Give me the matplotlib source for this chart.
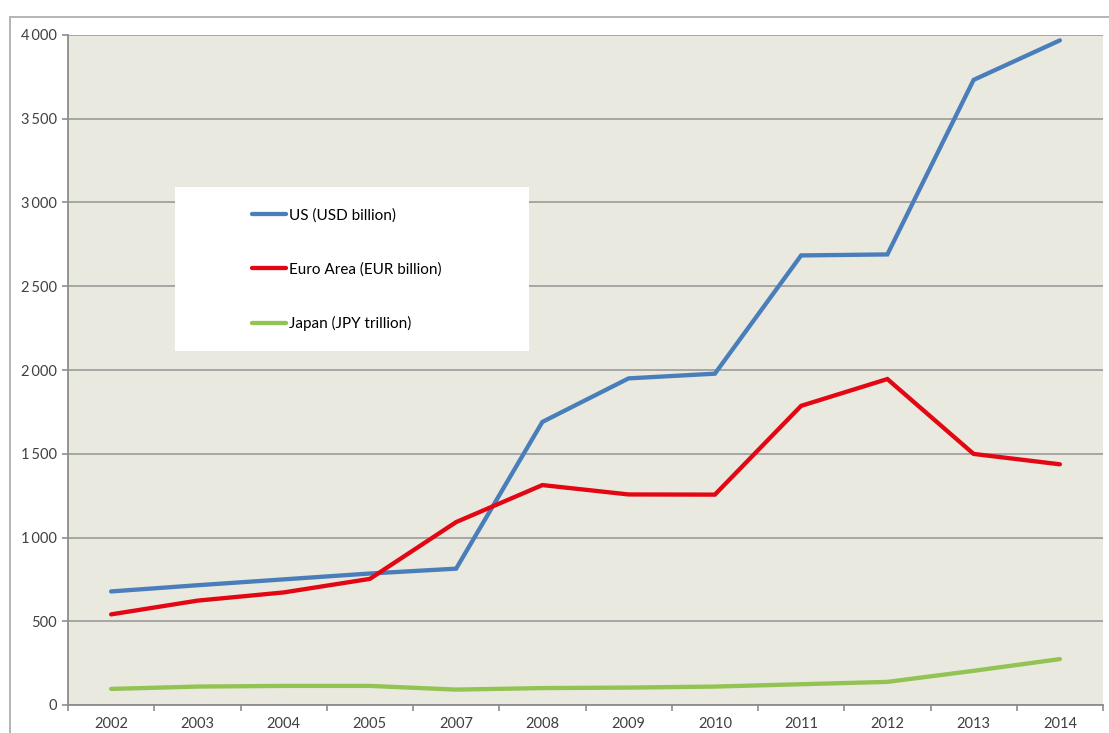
import matplotlib
matplotlib.use("Agg")
import matplotlib.pyplot as plt
from matplotlib.patches import Rectangle
from matplotlib.lines import Line2D
from matplotlib.ticker import FuncFormatter, FixedLocator

plt.rcParams['font.family'] = ['Lato', 'DejaVu Sans']

# ---------------- data ----------------
years = ['2002', '2003', '2004', '2005', '2007', '2008', '2009',
         '2010', '2011', '2012', '2013', '2014']
us = [678, 715, 750, 785, 814, 1690, 1950, 1978, 2684, 2690, 3732, 3968]
euro = [541, 623, 672, 753, 1092, 1313, 1257, 1256, 1786, 1946, 1499, 1437]
japan = [96, 110, 114, 114, 92, 101, 104, 110, 124, 138, 204, 274]

names = ['US (USD billion)', 'Euro Area (EUR billion)', 'Japan (JPY trillion)']
colors = ['#4a7ebb', '#e30613', '#92c353']

# ---------------- figure ----------------
W, H = 1109, 733
fig = plt.figure(figsize=(W / 100, H / 100), dpi=100)
fig.patch.set_facecolor('white')

# outer chart frame (only top and left visible)
fig.add_artist(Line2D([10 / W, 1.0], [1 - 17 / H, 1 - 17 / H], transform=fig.transFigure,
                      color='#b4b4b4', lw=1.4))
fig.add_artist(Line2D([10 / W, 10 / W], [0, 1 - 17 / H], transform=fig.transFigure,
                      color='#b4b4b4', lw=1.4))

ax = fig.add_axes([68 / W, 1 - 705 / H, (1103 - 68) / W, (705 - 35) / H])
ax.set_facecolor('#eae9df')

x = list(range(len(years)))
for vals, name, c in zip([us, euro, japan], names, colors):
    ax.plot(x, vals, color=c, lw=3.1, label=name, solid_capstyle='round',
            solid_joinstyle='miter', zorder=3)

ax.set_xlim(-0.5, len(years) - 0.5)
ax.set_ylim(0, 4000)

# y axis
ax.set_yticks(range(0, 4001, 500))
ax.yaxis.set_major_formatter(FuncFormatter(
    lambda v, p: '{:,.0f}'.format(v).replace(',', '\u2009')))
ax.grid(axis='y', color='#a0a0a0', lw=1.3, zorder=1)
ax.set_axisbelow(True)

# x axis: labels at centers, ticks at category boundaries
ax.set_xticks(x)
ax.set_xticklabels(years)
ax.xaxis.set_minor_locator(FixedLocator([i - 0.5 for i in range(len(years) + 1)]))
ax.tick_params(axis='x', which='major', length=0, pad=9)
ax.tick_params(axis='x', which='minor', length=4, width=1.2, color='#8c8c8c', direction='out')
ax.tick_params(axis='y', length=4, width=1.2, color='#8c8c8c', pad=4)
ax.tick_params(labelsize=10.5, labelcolor='#404040')

for s in ['top', 'right']:
    ax.spines[s].set_visible(False)
for s in ['left', 'bottom']:
    ax.spines[s].set_color('#8c8c8c')
    ax.spines[s].set_linewidth(1.3)

# legend box
ax.add_patch(Rectangle((0.1034, 0.5284), 0.342, 0.2447, transform=ax.transAxes,
                       facecolor='white', edgecolor='none', zorder=4))
leg = ax.legend(loc='upper left', bbox_to_anchor=((252 - 68) / 1035, (705 - 208) / 670),
                frameon=False, fontsize=11, handlelength=2.2, handletextpad=0.25,
                labelspacing=2.6, borderpad=0, borderaxespad=0)
leg.set_zorder(5)

fig.savefig('out.png', dpi=100)
